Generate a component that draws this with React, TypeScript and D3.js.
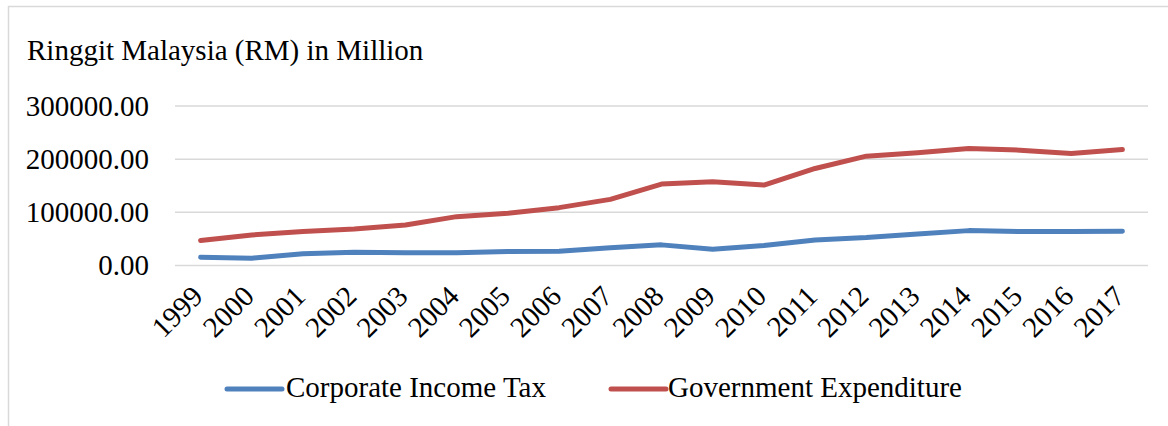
import React from "react";
import * as d3 from "d3";

const years = ["1999","2000","2001","2002","2003","2004","2005","2006","2007","2008","2009","2010","2011","2012","2013","2014","2015","2016","2017"];
const corporateIncomeTax = [15600,13800,21900,25000,23800,23800,26300,26900,33400,38800,30600,37500,48100,52500,59400,65600,63800,63800,64400];
const governmentExpenditure = [46900,57500,63800,68800,76300,91900,98100,108800,124400,153100,157500,151300,182500,205600,211900,220000,216900,210600,218100];
const yTicks = [0,100000,200000,300000];
const seriesNames = ["Corporate Income Tax","Government Expenditure"];
const seriesColors = ["#4F81BD","#C0504D"];

const W = 1168, H = 426;
const FONT = "Liberation Serif, Times New Roman, serif";
const FS = 29;

export default function App() {
  const x = d3.scaleBand<string>().domain(years).range([175, 1148]);
  const y = d3.scaleLinear().domain([0, 300000]).range([265.5, 106]);
  const line = d3.line<number>()
    .x((_, i) => (x(years[i]) as number) + x.bandwidth() / 2)
    .y((v) => y(v));
  const series = [corporateIncomeTax, governmentExpenditure];
  const fmt = d3.format(".2f");
  const legendItems = [
    { lx: 227, tx: 286 },
    { lx: 611, tx: 668 },
  ];
  const ts = { fontFamily: FONT, fontSize: FS };
  return (
    <svg width={W} height={H} style={{ position: "absolute", left: 0, top: 0, background: "#fff" }}>
      <rect x={8.5} y={6.5} width={1200} height={500} fill="#fff" stroke="#D9D9D9" strokeWidth={1.5} />
      <text x={27} y={60} style={ts} fill="#000">Ringgit Malaysia (RM) in Million</text>
      {yTicks.map((t) => (
        <g key={t}>
          <line x1={175} x2={1148} y1={y(t)} y2={y(t)} stroke="#D9D9D9" strokeWidth={1.5} />
          <text x={149} y={y(t) + 9.5} textAnchor="end" style={ts} fill="#000">{fmt(t)}</text>
        </g>
      ))}
      {years.map((yr) => {
        const cx = (x(yr) as number) + x.bandwidth() / 2;
        return (
          <text key={yr} transform={`translate(${cx + 4},${298}) rotate(-45)`} textAnchor="end" style={ts} fill="#000">{yr}</text>
        );
      })}
      {series.map((s, i) => (
        <path key={i} d={line(s) as string} fill="none" stroke={seriesColors[i]} strokeWidth={5} strokeLinecap="round" strokeLinejoin="round" />
      ))}
      {seriesNames.map((n, i) => (
        <g key={n}>
          <line x1={legendItems[i].lx} x2={legendItems[i].lx + 55} y1={389} y2={389} stroke={seriesColors[i]} strokeWidth={5} strokeLinecap="round" />
          <text x={legendItems[i].tx} y={397} style={ts} fill="#000">{n}</text>
        </g>
      ))}
    </svg>
  );
}
